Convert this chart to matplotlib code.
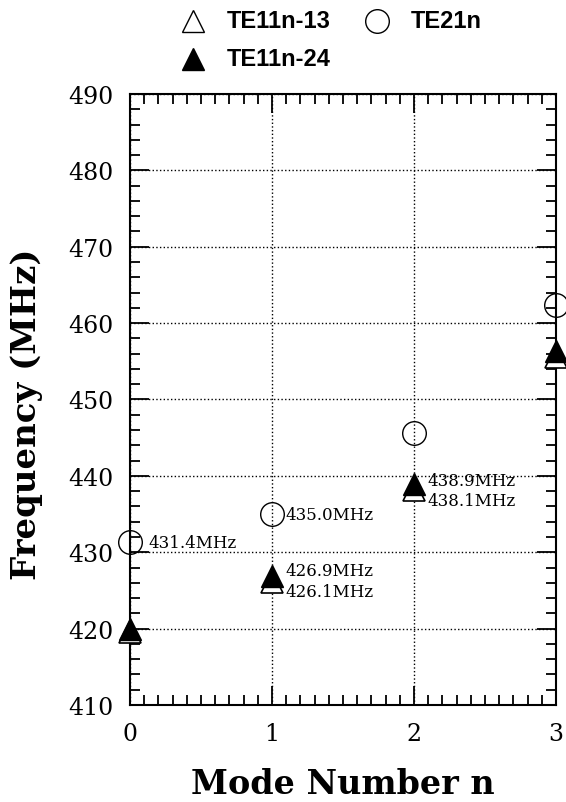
import matplotlib
matplotlib.use('Agg')
import matplotlib.pyplot as plt
from matplotlib.lines import Line2D
from matplotlib.ticker import MultipleLocator

file_out = 'out.png'

mode_n = [0, 1, 2, 3]
te11_13 = [419.5, 426.1, 438.1, 455.6]
te11_24 = [420.0, 426.9, 438.9, 456.4]
te21 = [431.4, 435.0, 445.6, 462.4]

# labels written next to points: (n, value, text, dx, dy)
notes = [
    (0, 431.4, '431.4MHz', 13, -1),
    (1, 435.0, '435.0MHz', 10, 0),
    (1, 426.9, '426.9MHz', 10, 4),
    (1, 426.1, '426.1MHz', 10, -7),
    (2, 438.9, '438.9MHz', 10, 3),
    (2, 438.1, '438.1MHz', 10, -7),
]

W, H = 566, 803
plt.rcParams['font.family'] = ['DejaVu Serif']

fig = plt.figure(figsize=(W / 100, H / 100), dpi=100)
ax = fig.add_axes([0.2297, 0.1208, 0.7525, 0.7609])

ax.plot(mode_n, te11_13, linestyle='none', marker='^', markersize=16,
        markerfacecolor='white', markeredgecolor='black', markeredgewidth=1.2,
        clip_on=False, zorder=3)
ax.plot(mode_n, te11_24, linestyle='none', marker='^', markersize=16,
        markerfacecolor='black', markeredgecolor='black',
        clip_on=False, zorder=4)
ax.plot(mode_n, te21, linestyle='none', marker='o', markersize=17,
        markerfacecolor='none', markeredgecolor='black', markeredgewidth=1.0,
        clip_on=False, zorder=3)

for n, v, t, dx, dy in notes:
    ax.annotate(t, (n, v), xytext=(dx, dy), textcoords='offset points',
                ha='left', va='center', fontsize=12, family='DejaVu Serif')

ax.set_xlim(0, 3)
ax.set_ylim(410, 490)
ax.xaxis.set_major_locator(MultipleLocator(1))
ax.xaxis.set_minor_locator(MultipleLocator(0.1))
ax.yaxis.set_major_locator(MultipleLocator(10))
ax.yaxis.set_minor_locator(MultipleLocator(2))
ax.tick_params(which='both', direction='in', top=True, right=True, width=1.3)
ax.tick_params(which='major', length=14, labelsize=17, pad=12)
ax.tick_params(which='minor', length=7)
for s in ax.spines.values():
    s.set_linewidth(1.5)
ax.grid(True, which='major', linestyle=':', color='black', linewidth=1.0)

ax.set_xlabel('Mode Number n', fontsize=24, fontweight='bold', labelpad=16)
ax.set_ylabel('Frequency (MHz)', fontsize=24.5, fontweight='bold')
ax.yaxis.set_label_coords(-0.204, 0.478)

# legend drawn by hand (marker, label, x, y in pixels from top-left)
legend_items = [
    (dict(marker='^', markersize=16, markerfacecolor='white'), 'TE11n-13', 193, 22),
    (dict(marker='o', markersize=17, markerfacecolor='none'), 'TE21n', 377, 22),
    (dict(marker='^', markersize=16, markerfacecolor='black'), 'TE11n-24', 193, 60),
]
for style, label, px, py in legend_items:
    fig.add_artist(Line2D([px / W], [1 - py / H], linestyle='none',
                          markeredgecolor='black', markeredgewidth=1.0,
                          transform=fig.transFigure, **style))
    fig.text((px + 34) / W, 1 - py / H, label, ha='left', va='center',
             family='Liberation Sans', fontweight='bold', fontsize=17)

fig.savefig(file_out, dpi=100)
